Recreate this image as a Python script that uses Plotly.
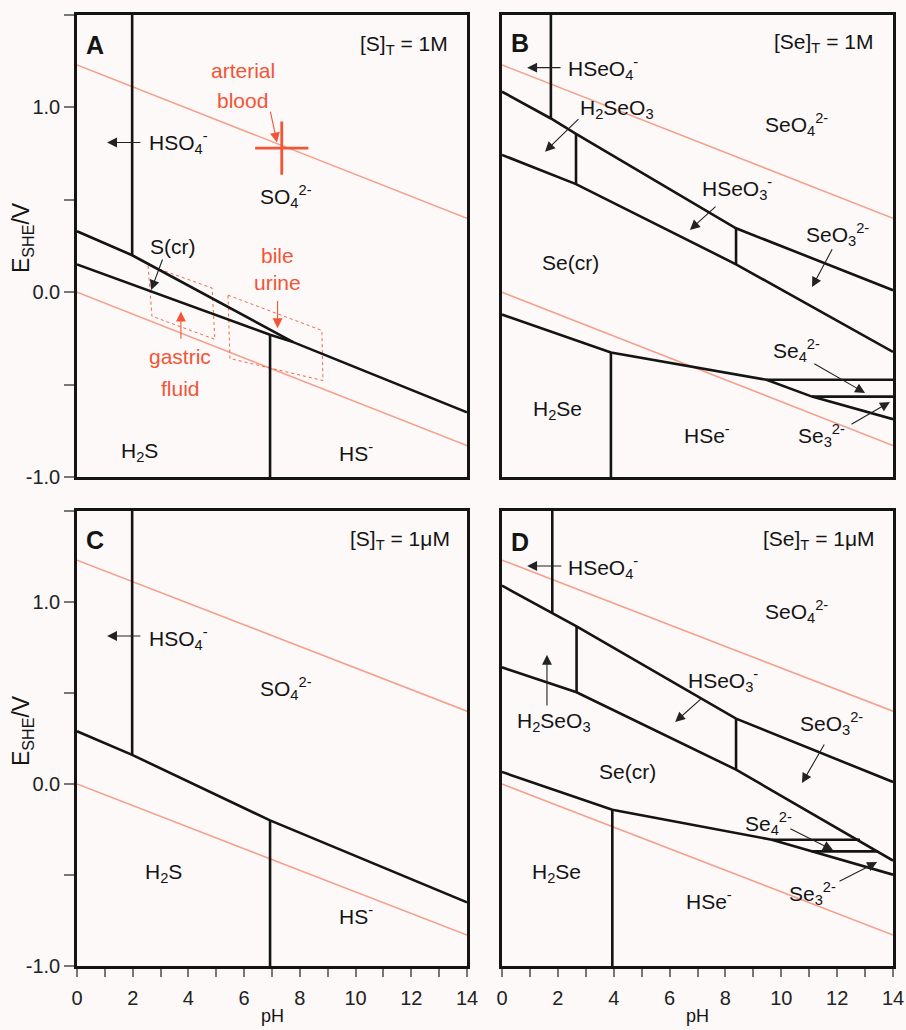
import plotly.graph_objects as go

# ---------------- data (pH, E_SHE / V) ----------------
water_ph = [0, 14]
water_upper_E = [1.23, 0.40]
water_lower_E = [0.00, -0.83]

# Panel A : [S]T = 1 M
A_hso4_ph = [1.98, 1.98];            A_hso4_E = [1.5, 0.20]
A_upper_ph = [0, 1.98, 7.76];        A_upper_E = [0.33, 0.20, -0.27]
A_lower_ph = [0, 2.0, 4.8, 6.93, 7.76, 14]
A_lower_E = [0.15, 0.04, -0.115, -0.23, -0.27, -0.65]
A_pka_ph = [6.93, 6.93];             A_pka_E = [-0.23, -1.0]
arterial_ph = [7.35];                arterial_E = [0.78]
gastric_ph = [2.55, 4.85, 4.95, 2.69, 2.55]
gastric_E = [0.147, 0.022, -0.255, -0.130, 0.147]
bile_ph = [5.42, 8.79, 8.83, 5.49, 5.42]
bile_E = [-0.016, -0.207, -0.478, -0.359, -0.016]

# Panel B : [Se]T = 1 M
B_hseo4_ph = [1.75, 1.75];           B_hseo4_E = [1.5, 0.94]
B_upper_ph = [0, 1.75, 2.65, 8.38, 14]
B_upper_E = [1.085, 0.94, 0.857, 0.346, 0.011]
B_pka1_ph = [2.65, 2.65];            B_pka1_E = [0.857, 0.585]
B_pka2_ph = [8.38, 8.38];            B_pka2_E = [0.346, 0.151]
B_mid_ph = [0, 2.65, 8.38, 14];      B_mid_E = [0.743, 0.585, 0.151, -0.323]
B_lower_ph = [0, 3.9, 9.47, 11.1, 14]
B_lower_E = [-0.121, -0.326, -0.474, -0.565, -0.687]
B_se4_ph = [9.47, 14];               B_se4_E = [-0.474, -0.474]
B_se3_ph = [11.1, 14];               B_se3_E = [-0.565, -0.565]
B_h2se_ph = [3.9, 3.9];              B_h2se_E = [-0.326, -1.0]

# Panel C : [S]T = 1 uM
C_hso4_ph = [1.98, 1.98];            C_hso4_E = [1.5, 0.16]
C_bound_ph = [0, 1.98, 6.93, 14];    C_bound_E = [0.29, 0.16, -0.20, -0.65]
C_pka_ph = [6.93, 6.93];             C_pka_E = [-0.20, -1.0]

# Panel D : [Se]T = 1 uM
D_hseo4_ph = [1.8, 1.8];             D_hseo4_E = [1.5, 0.94]
D_upper_ph = [0, 1.8, 2.67, 8.38, 14]
D_upper_E = [1.09, 0.94, 0.866, 0.359, 0.011]
D_pka1_ph = [2.67, 2.67];            D_pka1_E = [0.866, 0.504]
D_pka2_ph = [8.38, 8.38];            D_pka2_E = [0.359, 0.079]
D_mid_ph = [0, 2.67, 8.38, 14];      D_mid_E = [0.641, 0.504, 0.079, -0.421]
D_lower_ph = [0, 3.95, 9.66, 11.09, 14]
D_lower_E = [0.066, -0.141, -0.306, -0.37, -0.498]
D_se4_ph = [9.66, 12.82];            D_se4_E = [-0.306, -0.306]
D_se3_ph = [11.09, 13.47];           D_se3_E = [-0.37, -0.37]
D_h2se_ph = [3.95, 3.95];            D_h2se_E = [-0.141, -1.0]

x_ticks = list(range(0, 15))
x_ticktext = [str(v) if v % 2 == 0 else " " for v in x_ticks]
y_ticks = [-1.0, -0.5, 0.0, 0.5, 1.0, 1.5]
y_ticktext = ["-1.0", " ", "0.0", " ", "1.0", " "]

# ---------------- styling ----------------
W, H = 906, 1030
FONT = "Liberation Sans, Arial, sans-serif"
BLACK = "#141414"
RED = "#f25536"
WATER = "#f4a08c"
BG = "#fdf9f9"
LW = 2.6

fig = go.Figure()


def line(ph, E, ax, color=BLACK, width=LW, dash="solid"):
    xa = "x" if ax == 1 else "x%d" % ax
    ya = "y" if ax == 1 else "y%d" % ax
    fig.add_trace(go.Scatter(x=ph, y=E, mode="lines", xaxis=xa, yaxis=ya,
                             line=dict(color=color, width=width, dash=dash),
                             hoverinfo="skip", showlegend=False))


for ax in (1, 2, 3, 4):
    line(water_ph, water_upper_E, ax, WATER, 1.6)
    line(water_ph, water_lower_E, ax, WATER, 1.6)

# A
line(gastric_ph, gastric_E, 1, RED, 0.9, "dot")
line(bile_ph, bile_E, 1, RED, 0.9, "dot")
for ph, E in [(A_hso4_ph, A_hso4_E), (A_upper_ph, A_upper_E), (A_lower_ph, A_lower_E), (A_pka_ph, A_pka_E)]:
    line(ph, E, 1)
fig.add_trace(go.Scatter(x=arterial_ph, y=arterial_E, mode="markers", xaxis="x", yaxis="y",
                         marker=dict(symbol="cross-thin", size=38, color=RED,
                                     line=dict(color=RED, width=2.8)),
                         hoverinfo="skip", showlegend=False))
# B
for ph, E in [(B_hseo4_ph, B_hseo4_E), (B_upper_ph, B_upper_E), (B_pka1_ph, B_pka1_E),
              (B_pka2_ph, B_pka2_E), (B_mid_ph, B_mid_E), (B_lower_ph, B_lower_E),
              (B_se4_ph, B_se4_E), (B_se3_ph, B_se3_E), (B_h2se_ph, B_h2se_E)]:
    line(ph, E, 2)
# C
for ph, E in [(C_hso4_ph, C_hso4_E), (C_bound_ph, C_bound_E), (C_pka_ph, C_pka_E)]:
    line(ph, E, 3)
# D
for ph, E in [(D_hseo4_ph, D_hseo4_E), (D_upper_ph, D_upper_E), (D_pka1_ph, D_pka1_E),
              (D_pka2_ph, D_pka2_E), (D_mid_ph, D_mid_E), (D_lower_ph, D_lower_E),
              (D_se4_ph, D_se4_E), (D_se3_ph, D_se3_E), (D_h2se_ph, D_h2se_E)]:
    line(ph, E, 4)

annotations = []


def refs(ax):
    return ("x" if ax == 1 else "x%d" % ax), ("y" if ax == 1 else "y%d" % ax)


def label(ax, x, y, text, size=21, color=BLACK, bold=False, xanchor="center"):
    xr, yr = refs(ax)
    if bold:
        text = "<b>%s</b>" % text
    annotations.append(dict(x=x, y=y, xref=xr, yref=yr, text=text, showarrow=False,
                            xanchor=xanchor, yanchor="middle",
                            font=dict(family=FONT, size=size, color=color)))


def arrow(ax, tail, head, color="#222"):
    xr, yr = refs(ax)
    annotations.append(dict(x=head[0], y=head[1], ax=tail[0], ay=tail[1], xref=xr, yref=yr,
                            axref=xr, ayref=yr, text="", showarrow=True, arrowhead=2,
                            arrowsize=1.8, arrowwidth=1.1, arrowcolor=color))


# Panel A
label(1, 0.65, 1.34, "A", 25, bold=True)
label(1, 11.75, 1.34, "[S]<sub>T</sub> = 1M")
label(1, 5.95, 1.20, "arterial", color=RED)
label(1, 5.95, 1.04, "blood", color=RED)
arrow(1, (6.93, 0.985), (7.18, 0.81), RED)
arrow(1, (2.33, 0.81), (1.08, 0.81))
label(1, 2.5, 0.81, "HSO<sub>4</sub><sup>-</sup>", xanchor="left")
label(1, 7.5, 0.52, "SO<sub>4</sub><sup>2-</sup>")
label(1, 3.45, 0.245, "S(cr)")
arrow(1, (3.09, 0.185), (2.66, 0.012))
label(1, 7.2, 0.20, "bile", color=RED)
label(1, 7.2, 0.05, "urine", color=RED)
arrow(1, (7.2, -0.04), (7.2, -0.195), RED)
label(1, 3.7, -0.35, "gastric", color=RED)
label(1, 3.7, -0.52, "fluid", color=RED)
arrow(1, (3.73, -0.26), (3.73, -0.105), RED)
label(1, 2.26, -0.865, "H<sub>2</sub>S")
label(1, 10.0, -0.865, "HS<sup>-</sup>")

# Panel B
label(2, 0.64, 1.35, "B", 25, bold=True)
label(2, 11.5, 1.35, "[Se]<sub>T</sub> = 1M")
arrow(2, (2.15, 1.215), (0.9, 1.215))
label(2, 2.3, 1.21, "HSeO<sub>4</sub><sup>-</sup>", xanchor="left")
label(2, 4.12, 0.99, "H<sub>2</sub>SeO<sub>3</sub>")
arrow(2, (2.79, 0.945), (1.54, 0.76))
label(2, 10.55, 0.91, "SeO<sub>4</sub><sup>2-</sup>")
label(2, 8.4, 0.56, "HSeO<sub>3</sub><sup>-</sup>")
arrow(2, (7.7, 0.47), (6.73, 0.337))
label(2, 12.0, 0.31, "SeO<sub>3</sub><sup>2-</sup>")
arrow(2, (11.85, 0.24), (11.1, 0.028))
label(2, 2.45, 0.16, "Se(cr)")
label(2, 10.55, -0.315, "Se<sub>4</sub><sup>2-</sup>")
arrow(2, (11.13, -0.383), (13.0, -0.545))
label(2, 11.45, -0.775, "Se<sub>3</sub><sup>2-</sup>")
arrow(2, (12.46, -0.719), (13.89, -0.594))
label(2, 2.0, -0.64, "H<sub>2</sub>Se")
label(2, 7.35, -0.765, "HSe<sup>-</sup>")

# Panel C
label(3, 0.65, 1.34, "C", 25, bold=True)
label(3, 11.6, 1.34, "[S]<sub>T</sub> = 1μM")
arrow(3, (2.33, 0.813), (1.08, 0.813))
label(3, 2.5, 0.80, "HSO<sub>4</sub><sup>-</sup>", xanchor="left")
label(3, 7.5, 0.525, "SO<sub>4</sub><sup>2-</sup>")
label(3, 3.1, -0.49, "H<sub>2</sub>S")
label(3, 10.0, -0.72, "HS<sup>-</sup>")

# Panel D
label(4, 0.64, 1.33, "D", 25, bold=True)
label(4, 11.35, 1.34, "[Se]<sub>T</sub> = 1μM")
arrow(4, (2.18, 1.198), (0.9, 1.198))
label(4, 2.3, 1.19, "HSeO<sub>4</sub><sup>-</sup>", xanchor="left")
label(4, 10.55, 0.95, "SeO<sub>4</sub><sup>2-</sup>")
label(4, 1.85, 0.34, "H<sub>2</sub>SeO<sub>3</sub>")
arrow(4, (1.61, 0.423), (1.61, 0.71))
label(4, 7.9, 0.57, "HSeO<sub>3</sub><sup>-</sup>")
arrow(4, (7.2, 0.478), (6.2, 0.341))
label(4, 11.8, 0.33, "SeO<sub>3</sub><sup>2-</sup>")
arrow(4, (11.57, 0.225), (10.74, 0.005))
label(4, 4.5, 0.07, "Se(cr)")
label(4, 9.55, -0.215, "Se<sub>4</sub><sup>2-</sup>")
arrow(4, (10.27, -0.242), (11.85, -0.363))
label(4, 11.1, -0.6, "Se<sub>3</sub><sup>2-</sup>")
arrow(4, (12.03, -0.538), (13.43, -0.429))
label(4, 1.95, -0.49, "H<sub>2</sub>Se")
label(4, 7.4, -0.64, "HSe<sup>-</sup>")

# axis titles (paper coords)
for yc in (238, 731):
    annotations.append(dict(x=22 / W, y=1 - yc / H, xref="paper", yref="paper",
                            text="E<sub>SHE</sub>/V", textangle=-90, showarrow=False,
                            xanchor="center", yanchor="middle",
                            font=dict(family=FONT, size=23, color=BLACK)))
for xc in (272, 697):
    annotations.append(dict(x=xc / W, y=1 - 1016 / H, xref="paper", yref="paper",
                            text="pH", showarrow=False, xanchor="center", yanchor="middle",
                            font=dict(family=FONT, size=18, color=BLACK)))

xl = [77 / W, 467 / W]
xr_ = [502 / W, 893 / W]
yt = [1 - 477 / H, 1 - 15 / H]
yb = [1 - 966 / H, 1 - 511 / H]

axis_common = dict(showline=True, linecolor=BLACK, linewidth=2.5, mirror=True,
                   showgrid=False, zeroline=False, fixedrange=True, automargin=False)
x_nolab = dict(range=[0, 14], ticks="", showticklabels=False, **axis_common)
x_lab = dict(range=[0, 14], ticks="outside", ticklen=8, tickwidth=1.5, tickcolor="#777",
             tickvals=x_ticks, ticktext=x_ticktext, ticklabelstandoff=4,
             tickfont=dict(family=FONT, size=20, color="#222"), **axis_common)
y_lab = dict(range=[-1.0, 1.5], ticks="outside", ticklen=10, tickwidth=1.5, tickcolor="#777",
             tickvals=y_ticks, ticktext=y_ticktext,
             tickfont=dict(family=FONT, size=20, color="#222"), **axis_common)
y_nolab = dict(range=[-1.0, 1.5], ticks="", showticklabels=False, **axis_common)

fig.update_layout(
    width=W, height=H, margin=dict(l=0, r=0, t=0, b=0, autoexpand=False),
    paper_bgcolor=BG, plot_bgcolor=BG, showlegend=False,
    font=dict(family=FONT, color=BLACK),
    xaxis=dict(domain=xl, anchor="y", **x_nolab),
    yaxis=dict(domain=yt, anchor="x", **y_lab),
    xaxis2=dict(domain=xr_, anchor="y2", **x_nolab),
    yaxis2=dict(domain=yt, anchor="x2", **y_nolab),
    xaxis3=dict(domain=xl, anchor="y3", **x_lab),
    yaxis3=dict(domain=yb, anchor="x3", **y_lab),
    xaxis4=dict(domain=xr_, anchor="y4", **x_lab),
    yaxis4=dict(domain=yb, anchor="x4", **y_nolab),
    annotations=annotations,
)

fig.write_html("out.html", config={"displayModeBar": False},
               post_script="document.body.style.margin='0px';document.body.style.overflow='hidden';")
